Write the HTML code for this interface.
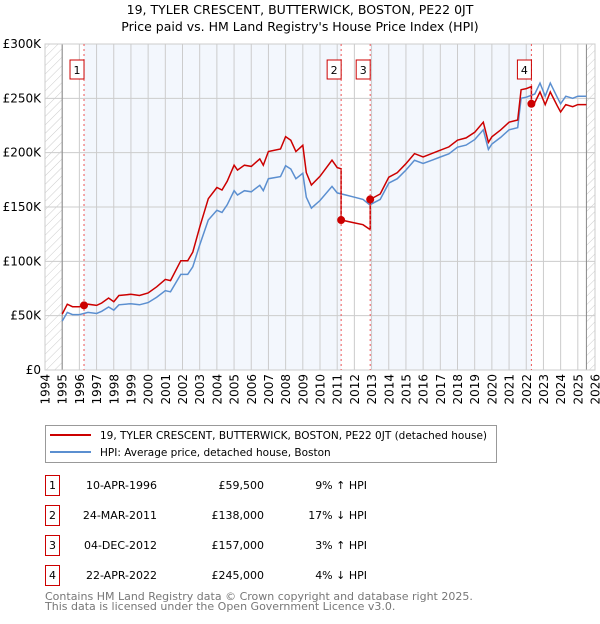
<!DOCTYPE html>
<html><head><meta charset="utf-8"><style>
body{margin:0;background:#fff;width:600px;height:620px;overflow:hidden;font-family:"DejaVu Sans","Liberation Sans",sans-serif}
svg text{font-family:"DejaVu Sans","Liberation Sans",sans-serif}
</style></head><body>
<svg id="chart" width="600" height="620" xmlns="http://www.w3.org/2000/svg">
<defs><pattern id="hatch" width="6" height="6" patternUnits="userSpaceOnUse" patternTransform="rotate(45)"><line x1="0" y1="0" x2="0" y2="6" stroke="#ccc" stroke-width="1"/></pattern></defs>
<text x="300" y="14" text-anchor="middle" font-size="12.5">19, TYLER CRESCENT, BUTTERWICK, BOSTON, PE22 0JT</text>
<text x="300" y="31" text-anchor="middle" font-size="12.5">Price paid vs. HM Land Registry's House Price Index (HPI)</text>
<g id="bg"></g><g id="grid"></g><g id="axes"></g><g id="series"></g><g id="marks"></g>
<rect x="45.5" y="425.5" width="451" height="37" fill="#fff" stroke="#999"/>
<line x1="50" y1="435" x2="91" y2="435" stroke="#cc0000" stroke-width="2"/>
<text x="100" y="439" font-size="10.5">19, TYLER CRESCENT, BUTTERWICK, BOSTON, PE22 0JT (detached house)</text>
<line x1="50" y1="452" x2="91" y2="452" stroke="#5b8fd0" stroke-width="2"/>
<text x="100" y="456" font-size="10.5">HPI: Average price, detached house, Boston</text>
<g id="table" font-size="11"></g>
<text x="45" y="600" font-size="11" fill="#777">Contains HM Land Registry data © Crown copyright and database right 2025.</text>
<text x="45" y="610" font-size="11" fill="#777">This data is licensed under the Open Government Licence v3.0.</text>
</svg>
<script>
const hpiYears=[1995.0,1995.3,1995.6,1996.0,1996.5,1997.0,1997.3,1997.7,1998.0,1998.3,1999.0,1999.5,2000.0,2000.5,2001.0,2001.3,2001.9,2002.3,2002.6,2003.0,2003.5,2004.0,2004.3,2004.6,2005.0,2005.2,2005.6,2006.0,2006.5,2006.7,2007.0,2007.7,2008.0,2008.3,2008.6,2009.0,2009.2,2009.5,2010.0,2010.7,2011.0,2011.5,2012.0,2012.5,2012.9,2013.5,2014.0,2014.5,2015.0,2015.5,2016.0,2016.5,2017.0,2017.5,2018.0,2018.5,2019.0,2019.5,2019.8,2020.0,2020.5,2021.0,2021.5,2021.7,2022.0,2022.5,2022.8,2023.1,2023.4,2023.8,2024.0,2024.3,2024.7,2025.0,2025.5];
const hpiValues=[45,53,51,51,53,52,54,58,55,60,61,60,62,67,73,72,88,88,95,115,138,147,145,152,165,161,165,164,170,165,176,178,188,185,176,181,159,149,156,169,163,161,159,157,152,157,172,176,184,193,190,193,196,199,205,207,212,221,203,208,214,221,223,250,251,254,264,252,264,251,245,252,250,252,252];
const saleYears=[1996.27,2011.23,2012.92,2022.3];
const salePrices=[59.5,138,157,245];
const saleLabels=["1","2","3","4"];
const saleDates=["10-APR-1996","24-MAR-2011","04-DEC-2012","22-APR-2022"];
const salePriceText=["£59,500","£138,000","£157,000","£245,000"];
const saleHpiText=["9% ↑ HPI","17% ↓ HPI","3% ↑ HPI","4% ↓ HPI"];
const yTicks=[0,50,100,150,200,250,300];
const yTickLabels=["£0","£50K","£100K","£150K","£200K","£250K","£300K"];
const xTicks=[1994,1995,1996,1997,1998,1999,2000,2001,2002,2003,2004,2005,2006,2007,2008,2009,2010,2011,2012,2013,2014,2015,2016,2017,2018,2019,2020,2021,2022,2023,2024,2025,2026];

const L=45,R=595,T=44,B=370,dataStart=1995.0,dataEnd=2025.5;
const xs=y=>L+(y-1994)/(2026-1994)*(R-L);
const ys=v=>B-v/300*(B-T);
const NS="http://www.w3.org/2000/svg";
function mk(tag,parent,attrs){const e=document.createElementNS(NS,tag);for(const k in attrs)e.setAttribute(k,attrs[k]);parent.appendChild(e);return e;}
const bg=document.getElementById('bg'),grid=document.getElementById('grid'),axes=document.getElementById('axes'),ser=document.getElementById('series'),marks=document.getElementById('marks'),tbl=document.getElementById('table');
function hpiAt(t){for(let i=0;i<hpiYears.length-1;i++){if(t>=hpiYears[i]&&t<=hpiYears[i+1]){const f=(t-hpiYears[i])/(hpiYears[i+1]-hpiYears[i]);return hpiValues[i]+f*(hpiValues[i+1]-hpiValues[i]);}}return hpiValues[hpiValues.length-1];}

let r=mk('rect',bg,{x:L,y:T,width:R-L,height:B-T,fill:'#fff'});

for(let i=0;i<saleYears.length;i+=2){const a=saleYears[i],b=i+1<saleYears.length?saleYears[i+1]:dataEnd;
 const s=mk('rect',bg,{x:xs(a),y:T,width:xs(b)-xs(a),height:B-T,fill:'#eef3fc',opacity:0.7});
 }
let h1=mk('rect',bg,{x:L,y:T,width:xs(dataStart)-L,height:B-T,fill:'url(#hatch)'});

let h2=mk('rect',bg,{x:xs(dataEnd),y:T,width:R-xs(dataEnd),height:B-T,fill:'url(#hatch)'});

yTicks.forEach((v,i)=>{const g=mk('line',grid,{x1:L,x2:R,y1:ys(v),y2:ys(v),stroke:'#ccc','stroke-width':1});
 
 const t=mk('text',axes,{x:L-4,y:ys(v)+4,'text-anchor':'end','font-size':12});t.textContent=yTickLabels[i];
 });
xTicks.forEach(y=>{const g=mk('line',grid,{x1:xs(y),x2:xs(y),y1:T,y2:B,stroke:'#ccc','stroke-width':1});
 
 const t=mk('text',axes,{x:0,y:0,'text-anchor':'end','font-size':12,transform:`translate(${xs(y)+4.5},374) rotate(-90)`});t.textContent=y;
 });
[dataStart,dataEnd].forEach(y=>{const l=mk('line',grid,{x1:xs(y),x2:xs(y),y1:T,y2:B,stroke:'#888','stroke-width':1});
 });
const fr=mk('rect',grid,{x:L,y:T,width:R-L,height:B-T,fill:'none',stroke:'#ccc'});


let d=hpiYears.map((y,i)=>(i?'L':'M')+xs(y).toFixed(1)+','+ys(hpiValues[i]).toFixed(1)).join('');
const hl=mk('path',ser,{d:d,fill:'none',stroke:'#5b8fd0','stroke-width':1.5});

let pts=[];
for(let s=0;s<saleYears.length;s++){
 const a=s===0?dataStart:saleYears[s],b=s+1<saleYears.length?saleYears[s+1]:dataEnd;
 const f=salePrices[s]/hpiAt(saleYears[s]);
 const ts=[a].concat(hpiYears.filter(t=>t>a&&t<b)).concat([b]);
 ts.forEach(t=>pts.push([t,hpiAt(t)*f]));
}
d=pts.map((p,i)=>(i?'L':'M')+xs(p[0]).toFixed(1)+','+ys(p[1]).toFixed(1)).join('');
const pl=mk('path',ser,{d:d,fill:'none',stroke:'#cc0000','stroke-width':1.5});


saleYears.forEach((y,i)=>{
 const v=mk('line',marks,{x1:xs(y),x2:xs(y),y1:T,y2:B,stroke:'#e55','stroke-width':1,'stroke-dasharray':'2,3'});
 
 const c=mk('circle',marks,{cx:xs(y),cy:ys(salePrices[i]),r:4,fill:'#cc0000'});
 
 const bx=mk('rect',marks,{x:xs(y)-14,y:60,width:14,height:19,fill:'#fff',stroke:'#cc0000'});
 
 const t=mk('text',marks,{x:xs(y)-7,y:74,'text-anchor':'middle','font-size':11});t.textContent=saleLabels[i];
 
 const ry=475+i*30;
 const b2=mk('rect',tbl,{x:45.5,y:ry+0.5,width:14,height:20,fill:'none',stroke:'#cc0000'});
 
 const n=mk('text',tbl,{x:52.5,y:ry+14,'text-anchor':'middle'});n.textContent=saleLabels[i];
 
 const dt=mk('text',tbl,{x:157,y:ry+14,'text-anchor':'end'});dt.textContent=saleDates[i];
 
 const pr=mk('text',tbl,{x:264,y:ry+14,'text-anchor':'end'});pr.textContent=salePriceText[i];
 
 const hp=mk('text',tbl,{x:367,y:ry+14,'text-anchor':'end'});hp.textContent=saleHpiText[i];
 
});
</script>
</body></html>
